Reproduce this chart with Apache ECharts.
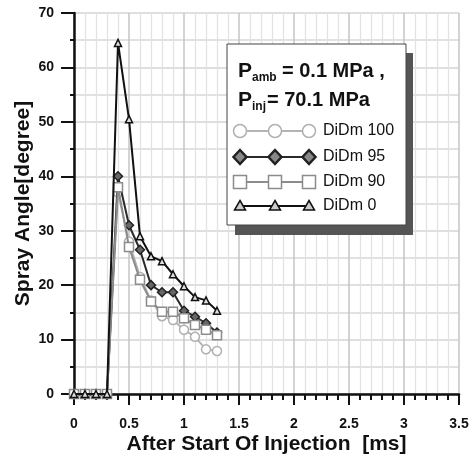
<!DOCTYPE html>
<html>
<head>
<meta charset="utf-8">
<script src="https://cdn.jsdelivr.net/npm/echarts@6/dist/echarts.min.js"></script>
<style>
  html, body { margin: 0; padding: 0; background: #fff; }
  #chart { width: 474px; height: 460px; }
</style>
</head>
<body>
<div id="chart"></div>
<script>
// time after start of injection [ms]
var timeMs = [0, 0.1, 0.2, 0.3, 0.4, 0.5, 0.6, 0.7, 0.8, 0.9, 1.0, 1.1, 1.2, 1.3]
// spray angle [degree]
var didm100 = [0, 0, 0, 0, 37, 28, 21.5, 17.2, 14.3, 13.6, 11.8, 10.5, 8.2, 7.9]
var didm95 = [0, 0, 0, 0, 40, 31, 26.5, 20, 18.7, 18.7, 15.3, 14.2, 13, 11.3]
var didm90 = [0, 0, 0, 0, 38, 27, 21, 17, 15.1, 15.1, 13.9, 12.7, 11.8, 10.8]
var didm0 = [0, 0, 0, 0, 64.5, 50.5, 29, 25.3, 24.4, 22, 19.8, 17.8, 17.2, 15.3]
var seriesNames = ['DiDm 100', 'DiDm 95', 'DiDm 90', 'DiDm 0']

var FONT = '"Liberation Sans", Arial, sans-serif'

// look of each series
var styles = [
  { symbol: 'circle', size: 9, line: '#b4b4b4', border: '#b0b0b0', fill: '#fff' },
  { symbol: 'diamond', size: 9, line: '#2a2a2a', border: '#222', fill: '#666' },
  { symbol: 'rect', size: 9, line: '#8c8c8c', border: '#8c8c8c', fill: '#fff' },
  { symbol: 'triangle', size: 7, line: '#111', border: '#111', fill: '#ddd' }
]
var allValues = [didm100, didm95, didm90, didm0]

function pairs (xs, ys) {
  return xs.map(function (x, i) { return [x, ys[i]] })
}

var series = allValues.map(function (vals, i) {
  var s = styles[i]
  return {
    name: seriesNames[i],
    type: 'line',
    data: pairs(timeMs, vals),
    symbol: s.symbol,
    symbolSize: s.size,
    showAllSymbol: true,
    lineStyle: { color: s.line, width: 2 },
    itemStyle: { color: s.fill, borderColor: s.border, borderWidth: 1.5 },
    z: 3 + i
  }
})

// legend drawn by hand: line with three markers
function legendMarker (kind, cx, cy, s) {
  var st = { fill: s.fill, stroke: s.border, lineWidth: 1.5 }
  if (kind === 'circle') {
    return { type: 'circle', shape: { cx: cx, cy: cy, r: 6.5 }, style: st }
  } else if (kind === 'rect') {
    return { type: 'rect', shape: { x: cx - 6.5, y: cy - 6.5, width: 13, height: 13 }, style: st }
  } else if (kind === 'diamond') {
    return { type: 'polygon', shape: { points: [[cx, cy - 7], [cx + 6.5, cy], [cx, cy + 7], [cx - 6.5, cy]] }, style: { fill: '#888', stroke: s.border, lineWidth: 2.5 } }
  }
  return { type: 'polygon', shape: { points: [[cx, cy - 5.5], [cx + 5.5, cy + 4], [cx - 5.5, cy + 4]] }, style: { fill: '#ccc', stroke: s.border, lineWidth: 1.5 } }
}

var legendItems = []
var rowY = [131, 157, 182, 206]
seriesNames.forEach(function (name, i) {
  var s = styles[i]
  legendItems.push({ type: 'line', shape: { x1: 240, y1: rowY[i], x2: 309, y2: rowY[i] }, style: { stroke: s.line, lineWidth: 2 } })
  ;[240, 275, 309].forEach(function (mx) {
    legendItems.push(legendMarker(s.symbol, mx, rowY[i], s))
  })
  legendItems.push({ type: 'text', style: { text: name, x: 323, y: rowY[i], font: '16px ' + FONT, fill: '#111', verticalAlign: 'middle' } })
})

var graphics = [
  { type: 'rect', shape: { x: 235, y: 53, width: 178, height: 182 }, style: { fill: '#555' }, z: 10 },
  { type: 'rect', shape: { x: 227, y: 44, width: 179, height: 181 }, style: { fill: '#fff', stroke: '#444', lineWidth: 1 }, z: 11 },
  { type: 'text', style: { text: 'P', x: 238, y: 71, font: 'bold 21px ' + FONT, fill: '#111', verticalAlign: 'middle' }, z: 12 },
  { type: 'text', style: { text: 'amb', x: 252, y: 78, font: 'bold 12px ' + FONT, fill: '#111', verticalAlign: 'middle' }, z: 12 },
  { type: 'text', style: { text: '= 0.1 MPa ,', x: 282, y: 71, font: 'bold 20px ' + FONT, fill: '#111', verticalAlign: 'middle' }, z: 12 },
  { type: 'text', style: { text: 'P', x: 238, y: 100, font: 'bold 21px ' + FONT, fill: '#111', verticalAlign: 'middle' }, z: 12 },
  { type: 'text', style: { text: 'inj', x: 252, y: 107, font: 'bold 12px ' + FONT, fill: '#111', verticalAlign: 'middle' }, z: 12 },
  { type: 'text', style: { text: '= 70.1 MPa', x: 267, y: 100, font: 'bold 20px ' + FONT, fill: '#111', verticalAlign: 'middle' }, z: 12 }
].concat(legendItems.map(function (g) { g.z = 12; return g }))

var chart = echarts.init(document.getElementById('chart'))
chart.setOption({
  animation: false,
  backgroundColor: '#fff',
  grid: { left: 74, right: 15, top: 13, bottom: 66 },
  xAxis: {
    type: 'value',
    min: 0,
    max: 3.5,
    interval: 0.5,
    name: 'After Start Of Injection  [ms]',
    nameLocation: 'middle',
    nameGap: 40,
    nameMoveOverlap: false,
    nameTextStyle: { fontFamily: FONT, fontSize: 21, fontWeight: 'bold', color: '#111' },
    axisLine: { show: true, onZero: false, lineStyle: { color: '#111', width: 2.5 } },
    axisTick: { show: true, length: 11, lineStyle: { color: '#111', width: 2 } },
    minorTick: { show: true, splitNumber: 5, length: 6, lineStyle: { color: '#111', width: 2 } },
    axisLabel: { margin: 23, fontFamily: FONT, fontSize: 14, fontWeight: 'bold', color: '#111' },
    splitLine: { show: true, lineStyle: { color: '#c4c4c4', width: 1.5 } },
    minorSplitLine: { show: true, lineStyle: { color: '#e2e2e2', width: 1.2 } }
  },
  yAxis: {
    type: 'value',
    min: 0,
    max: 70,
    interval: 10,
    name: 'Spray Angle[degree]',
    nameLocation: 'middle',
    nameGap: 40,
    nameMoveOverlap: false,
    nameTextStyle: { fontFamily: FONT, fontSize: 21, fontWeight: 'bold', color: '#111' },
    axisLine: { show: true, onZero: false, lineStyle: { color: '#111', width: 2.5 } },
    axisTick: { show: true, length: 13, lineStyle: { color: '#111', width: 2 } },
    minorTick: { show: true, splitNumber: 2, length: 4, lineStyle: { color: '#111', width: 2 } },
    axisLabel: { margin: 20, fontFamily: FONT, fontSize: 14, fontWeight: 'bold', color: '#111' },
    splitLine: { show: true, lineStyle: { color: '#d4d4d4', width: 1.5 } },
    minorSplitLine: { show: true, lineStyle: { color: '#d8d8d8', width: 1.5 } }
  },
  graphic: graphics,
  series: series
})
</script>
</body>
</html>
